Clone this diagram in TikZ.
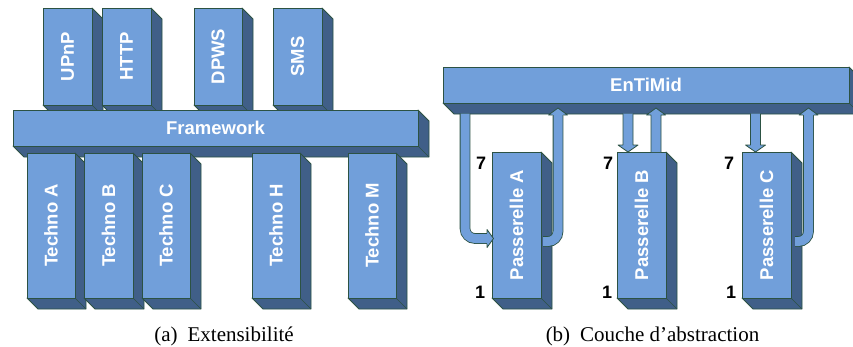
\documentclass[tikz,border=0pt]{standalone}
\usepackage{fontspec}
\usepackage{graphicx}
\setmainfont{Liberation Serif}
\newfontfamily\arialf{Liberation Sans}
\definecolor{frontc}{HTML}{719FDA}
\definecolor{sidec}{HTML}{405F88}
\definecolor{edgec}{HTML}{2C5243}
\tikzset{
  frontbox/.style={draw=edgec, fill=frontc, line width=0.8pt, inner sep=0pt, outer sep=0pt},
  sideface/.style={draw=edgec, fill=sidec, line width=0.8pt, line join=round},
  boxtext/.style={text=white, font=\arialf\bfseries\fontsize{18.5}{18.5}\selectfont, inner sep=0pt},
  numlabel/.style={text=black, font=\arialf\bfseries\fontsize{18}{18}\selectfont, inner sep=0pt},
  shaftout/.style={draw=edgec, line width=10.6pt, line cap=butt},
  shaftin/.style={draw=frontc, line width=9pt, line cap=butt},
  arrowfill/.style={fill=frontc},
  arrowline/.style={draw=edgec, line width=0.8pt, line join=round},
  captext/.style={font=\fontsize{21}{21}\selectfont, inner sep=0pt}
}
% #1 name, #2 x1, #3 y1, #4 x2, #5 y2, #6 rotation, #7 text
\newcommand{\tdbox}[7]{%
  \path[sideface] (#4,#3) -- ({#4+11},{#3+11}) -- ({#4+11},{#5+11}) -- ({#2+11},{#5+11}) -- (#2,#5) -- (#4,#5) -- cycle;
  \draw[edgec, line width=0.6pt] (#4,#5) -- ({#4+11},{#5+11});
  \node[frontbox, minimum width={#4pt-#2pt}, minimum height={#5pt-#3pt}] (#1) at ({(#2+#4)/2},{(#3+#5)/2}) {};
  \node[boxtext, rotate=#6] (#1-t) at (#1.center) {#7};
}
\begin{document}
\begin{tikzpicture}[x=1pt, y=-1pt]
\useasboundingbox (0,0) rectangle (853,346);
% ---------- (a) ----------
\tdbox{upnp}{43}{8}{92}{105}{90}{UPnP}
\tdbox{http}{102}{8}{151}{105}{90}{HTTP}
\tdbox{dpws}{194}{8}{242}{105}{90}{DPWS}
\tdbox{sms}{273}{8}{322}{105}{90}{SMS}
\tdbox{fw}{13}{110}{418}{146}{0}{Framework}
\tdbox{ta}{27}{153}{75}{298}{90}{Techno A}
\tdbox{tb}{84}{153}{133}{298}{90}{Techno B}
\tdbox{tc}{142}{153}{190}{298}{90}{Techno C}
\tdbox{th}{252}{153}{300}{298}{90}{Techno H}
\tdbox{tm}{348}{153}{396}{298}{90}{Techno M}
\node[captext, anchor=base] (capa) at (224,341) {(a)\hspace{10pt}Extensibilité};
% ---------- (b) ----------
\tdbox{ent}{443}{67}{849}{103}{0}{EnTiMid}
\tdbox{pa}{492}{152}{541}{298}{90}{Passerelle A}
\tdbox{pb}{617}{152}{666}{298}{90}{Passerelle B}
\tdbox{pc}{742}{152}{791}{298}{90}{Passerelle C}
% A: left elbow arrow (EnTiMid -> Passerelle A)
\coordinate (aL0) at (465,113.5);
\coordinate (aL1) at (465,238.5);
\coordinate (aL2) at (487.5,238.5);
\draw[shaftout, rounded corners=10pt] (aL0) -- (aL1) -- (aL2);
\draw[shaftin, rounded corners=10pt] (aL0) -- (aL1) -- (aL2);
\fill[arrowfill] (487,229.5) -- (493.5,238.5) -- (487,247.5) -- cycle;
\draw[arrowline] (487,243.8) -- (487,247.5) -- (493.5,238.5) -- (487,229.5) -- (487,233.2);
% A: right elbow arrow (Passerelle A -> EnTiMid)
\coordinate (aR0) at (543,241.5);
\coordinate (aR1) at (558,241.5);
\coordinate (aR2) at (558,114.5);
\draw[shaftout, rounded corners=10pt] (aR0) -- (aR1) -- (aR2);
\draw[shaftin, rounded corners=10pt] (aR0) -- (aR1) -- (aR2);
\fill[arrowfill] (548.5,115) -- (558,108) -- (567.5,115) -- cycle;
\draw[arrowline] (552.7,115) -- (548.5,115) -- (558,108) -- (567.5,115) -- (563.3,115);
% B: down arrow
\fill[arrowfill] (623,113.5) -- (623,145) -- (618,145) -- (628,152) -- (638,145) -- (633,145) -- (633,113.5) -- cycle;
\draw[arrowline] (623,113.5) -- (623,145) -- (618,145) -- (628,152) -- (638,145) -- (633,145) -- (633,113.5);
% B: up arrow
\fill[arrowfill] (651,152) -- (651,115) -- (646.5,115) -- (656,108) -- (665.5,115) -- (661,115) -- (661,152) -- cycle;
\draw[arrowline] (651,152) -- (651,115) -- (646.5,115) -- (656,108) -- (665.5,115) -- (661,115) -- (661,152);
% C: down arrow
\fill[arrowfill] (750.5,113.5) -- (750.5,145) -- (745.5,145) -- (755.5,152) -- (765.5,145) -- (760.5,145) -- (760.5,113.5) -- cycle;
\draw[arrowline] (750.5,113.5) -- (750.5,145) -- (745.5,145) -- (755.5,152) -- (765.5,145) -- (760.5,145) -- (760.5,113.5);
% C: right elbow arrow (Passerelle C -> EnTiMid)
\coordinate (cR0) at (795,241.5);
\coordinate (cR1) at (808.5,241.5);
\coordinate (cR2) at (808.5,114.5);
\draw[shaftout, rounded corners=10pt] (cR0) -- (cR1) -- (cR2);
\draw[shaftin, rounded corners=10pt] (cR0) -- (cR1) -- (cR2);
\fill[arrowfill] (799,115) -- (808.5,108) -- (818,115) -- cycle;
\draw[arrowline] (803.2,115) -- (799,115) -- (808.5,108) -- (818,115) -- (813.8,115);
% labels
\node[numlabel] (n7a) at (481,163) {7};
\node[numlabel] (n1a) at (480,292) {1};
\node[numlabel] (n7b) at (608,163) {7};
\node[numlabel] (n1b) at (607,292) {1};
\node[numlabel] (n7c) at (729,163) {7};
\node[numlabel] (n1c) at (731,292) {1};
\node[captext, anchor=base] (capb) at (652.5,341) {(b)\hspace{10pt}Couche d’abstraction};
\end{tikzpicture}
\end{document}
